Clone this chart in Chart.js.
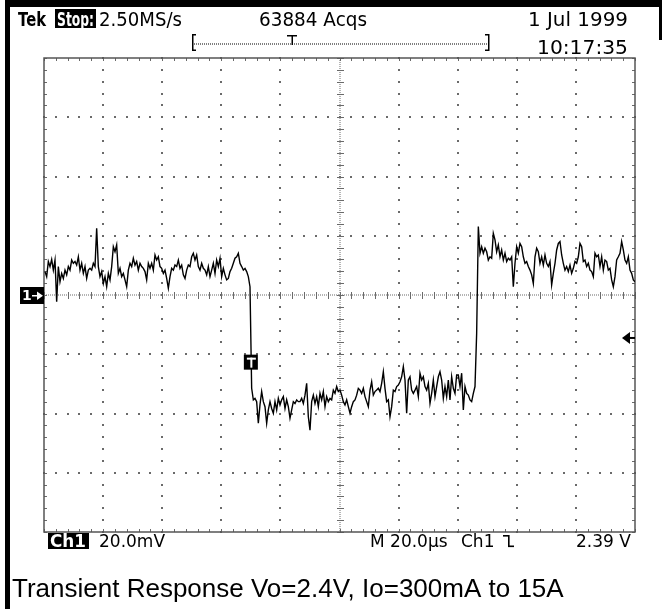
<!DOCTYPE html>
<html>
<head>
<meta charset="utf-8">
<script src="https://cdn.jsdelivr.net/npm/chart.js@4.4.0/dist/chart.umd.min.js"></script>
<style>
html, body { margin: 0; padding: 0; background: #fff; }
#wrap { position: relative; width: 665px; height: 609px; }
</style>
</head>
<body>
<div id="wrap"><canvas id="scope" width="665" height="609"></canvas></div>
<script>
// ch1 trace, mV relative to the "1->" ground marker
var beforeStepMv = [
  7.9, 6.2, 11.3, 9.6, 12.0, 8.4, 11.8, -2.3, 9.6, 4.5,
  7.3, 5.6, 8.4, 6.8, 9.6, 8.4, 11.8, 10.7, 11.3, 10.1,
  12.9, 8.4, 10.7, 7.3, 9.6, 5.6, 8.4, 9.0, 8.4, 10.7,
  9.6, 22.5, 9.6, 6.2, 7.9, 3.9, 6.2, 2.8, 7.3, 5.1,
  9.6, 16.3, 14.6, 16.9, 7.3, 9.0, 6.2, 7.3, 5.1, 2.8,
  8.4, 10.7, 9.6, 12.4, 10.1, 11.3, 8.4, 10.7, 9.6, 9.0,
  7.9, 5.1, 10.7, 9.0, 10.7, 8.4, 13.5, 11.8, 12.9, 9.6,
  9.0, 7.3, 8.4, 5.6, 2.3, 6.2, 9.0, 8.4, 10.1, 9.6,
  11.8, 9.0, 10.1, 6.8, 5.6, 8.4, 10.1, 9.6, 12.9, 14.1,
  11.8, 13.5, 9.6, 8.4, 10.7, 9.0, 8.4, 6.8, 9.6, 6.2,
  8.4, 10.7, 7.3, 11.8, 9.6, 12.4, 6.2, 9.0, 6.8, 5.1,
  5.6, 7.9, 9.0, 10.7, 12.4, 12.9, 14.1, 10.7, 9.6, 8.4,
  9.0, 7.9, 6.2, 2.8
];
var lowMv = [
  -31.5, -35.4, -34.9, -36.0, -43.3, -37.0, -32.6, -36.0, -37.7, -43.3,
  -38.8, -36.0, -38.3, -39.9, -36.0, -38.8, -34.9, -37.1, -35.4, -34.3,
  -38.3, -35.4, -37.7, -41.6, -38.8, -36.0, -36.6, -35.4, -36.0, -36.0,
  -34.9, -36.6, -33.8, -29.8, -41.1, -45.6, -36.0, -33.8, -36.6, -34.3,
  -37.7, -33.2, -35.4, -32.6, -37.7, -34.3, -36.0, -34.9
];
var afterStepMv = [
  -35.4, -32.1, -33.2, -30.9, -32.6, -32.1, -33.8, -36.0, -37.1, -35.4,
  -37.7, -39.9, -37.7, -36.0, -35.4, -33.8, -31.5, -32.1, -33.2, -31.5,
  -34.3, -36.0, -37.7, -32.1, -29.3, -33.8, -32.6, -32.1, -31.5, -32.6,
  -29.8, -25.9, -31.5, -36.0, -35.4, -41.1, -37.7, -32.1, -32.6, -30.9,
  -30.4, -29.3, -27.6, -24.2, -28.7, -39.9, -28.7, -27.6, -32.1, -33.2,
  -32.1, -30.9, -34.3, -26.4, -28.7, -27.6, -30.9, -32.1, -29.8, -36.6,
  -33.2, -28.7, -34.3, -30.9, -27.6, -25.9, -28.7, -34.9, -30.9, -34.3,
  -28.7, -35.4, -27.6, -31.5, -33.2, -27.0, -27.0, -30.9, -26.4, -38.8,
  -30.9, -33.2, -33.8, -35.4, -36.0, -33.2, -30.9, -12.9, 23.1, 14.1,
  16.3, 14.1, 15.8, 14.6, 11.8, 12.9, 12.4, 20.8, 18.6, 14.6,
  16.9, 12.9, 15.2, 11.8, 14.1, 11.3, 12.4, 11.8, 12.9, 2.8,
  10.7, 16.3, 14.1, 17.4, 16.3, 12.9, 10.7, 11.3, 9.6, 8.4,
  6.8, 3.9, 12.9, 15.8, 14.6, 10.7, 12.9, 10.1, 13.5, 10.7,
  9.6, 11.3, 3.4, 7.3, 10.7, 15.2, 17.4, 18.0, 13.5, 10.7,
  8.4, 9.6, 7.9, 10.1, 7.3, 9.0, 11.3, 10.7, 12.9, 17.4,
  16.3, 11.3, 11.8, 9.6, 10.7, 8.4, 7.9, 6.2, 14.1, 12.9,
  13.5, 9.6, 12.9, 8.4, 11.8, 11.3, 8.4, 9.0, 5.1, 2.8,
  6.2, 11.8, 12.9, 14.1, 18.0, 15.2, 11.8, 10.7, 12.9, 8.4,
  7.3, 5.1, 4.5
];

var firstSampleUs = 0.34;
var sampleUs = 0.564;
var timeDivUs = 20;     // M 20.0us
var voltDivMv = 20;     // Ch1 20.0mV
var xDivs = 10;
var yDivs = 8;
var triggerUs = 70;
var triggerMarkMv = -22.5;
var triggerLevelMv = -14.5;

var traceMv = beforeStepMv.concat(lowMv, afterStepMv);
var tracePoints = traceMv.map(function (v, i) {
  return { x: firstSampleUs + i * sampleUs, y: v };
});

// squeeze/stretch a string to the width the scope font used
function fitText(ctx, text, x, y, w) {
  var nat = ctx.measureText(text).width;
  ctx.save();
  ctx.translate(x, y);
  ctx.scale(w / nat, 1);
  ctx.fillText(text, 0, 0);
  ctx.restore();
}

var gridPlugin = {
  id: 'scopeGrid',
  beforeDatasetsDraw: function (chart) {
    var ctx = chart.ctx, ca = chart.chartArea;
    var xs = chart.scales.x, ys = chart.scales.y;
    var xMax = xDivs * timeDivUs;
    var yMin = -yDivs / 2 * voltDivMv;
    ctx.save();
    ctx.fillStyle = '#6a6a6a';
    // dotted major lines
    for (var i = 1; i < xDivs; i++) {
      if (i == xDivs / 2) continue;
      var px = Math.round(xs.getPixelForValue(i * timeDivUs));
      for (var j = 0; j <= yDivs * 5; j++) {
        var py = Math.round(ys.getPixelForValue(yMin + j * voltDivMv / 5));
        ctx.fillRect(px - 1, py - 1, 2, 2);
      }
    }
    for (var i = 1; i < yDivs; i++) {
      if (i == yDivs / 2) continue;
      var py = Math.round(ys.getPixelForValue(yMin + i * voltDivMv));
      for (var j = 0; j <= xDivs * 5; j++) {
        var px = Math.round(xs.getPixelForValue(j * timeDivUs / 5));
        ctx.fillRect(px - 1, py - 1, 2, 2);
      }
    }
    // centre crosshair + border ticks
    var cx = Math.round(xs.getPixelForValue(xMax / 2));
    var cy = Math.round(ys.getPixelForValue(0));
    for (var p = ca.top; p < ca.bottom; p += 2) ctx.fillRect(cx - 0.5, p, 1, 1);
    for (var p = ca.left; p < ca.right; p += 2) ctx.fillRect(p, cy - 0.5, 1, 1);
    for (var j = 0; j <= yDivs * 5; j++) {
      var py = Math.round(ys.getPixelForValue(yMin + j * voltDivMv / 5));
      ctx.fillRect(cx - 3, py, 7, 1);
      ctx.fillRect(ca.left, py, 3, 1);
      ctx.fillRect(ca.right - 3, py, 3, 1);
    }
    for (var j = 0; j <= xDivs * 5; j++) {
      var px = Math.round(xs.getPixelForValue(j * timeDivUs / 5));
      ctx.fillRect(px, cy - 3, 1, 7);
      ctx.fillRect(px, ca.top, 1, 3);
      ctx.fillRect(px, ca.bottom - 3, 1, 3);
    }
    ctx.strokeStyle = '#555';
    ctx.lineWidth = 1.5;
    ctx.strokeRect(ca.left, ca.top, ca.right - ca.left, ca.bottom - ca.top);
    ctx.restore();
  },
  afterDatasetsDraw: function (chart) {
    var ctx = chart.ctx, ca = chart.chartArea;
    var xs = chart.scales.x, ys = chart.scales.y;
    ctx.save();
    // ground marker
    var gy = Math.round(ys.getPixelForValue(0));
    ctx.fillStyle = '#000';
    ctx.fillRect(20, gy - 8, ca.left - 20, 17);
    ctx.fillStyle = '#fff';
    ctx.font = 'bold 14px "DejaVu Sans"';
    ctx.textBaseline = 'middle';
    ctx.fillText('1', 22, gy + 1);
    ctx.fillRect(32, gy, 7, 1.5);
    ctx.beginPath();
    ctx.moveTo(43, gy + 0.75); ctx.lineTo(37, gy - 3.5); ctx.lineTo(37, gy + 5); ctx.fill();
    // trigger mark
    var tx = xs.getPixelForValue(triggerUs), ty = ys.getPixelForValue(triggerMarkMv);
    ctx.fillStyle = '#000';
    ctx.fillRect(tx - 7, ty - 7, 14, 15);
    ctx.fillStyle = '#fff';
    ctx.fillRect(tx - 4, ty - 4, 9, 2);
    ctx.fillRect(tx - 0.5, ty - 4, 2, 10);
    // trigger level arrow
    var ly = ys.getPixelForValue(triggerLevelMv);
    ctx.fillStyle = '#000';
    ctx.beginPath();
    ctx.moveTo(ca.right - 13, ly); ctx.lineTo(ca.right - 5, ly - 6); ctx.lineTo(ca.right - 5, ly + 6); ctx.fill();
    ctx.fillRect(ca.right - 6, ly - 1, 6, 2);
    ctx.restore();
  },
  afterDraw: function (chart) {
    var ctx = chart.ctx, ca = chart.chartArea;
    ctx.save();
    ctx.fillStyle = '#000';
    ctx.fillRect(5, 0, 657, 7);
    ctx.fillRect(5, 0, 5, 609);
    ctx.fillRect(659, 0, 3, 40);
    ctx.textBaseline = 'alphabetic';
    ctx.font = 'bold 19px "DejaVu Sans"';
    fitText(ctx, 'Tek', 18, 26, 28);
    ctx.fillRect(55, 9, 41, 19);
    ctx.fillStyle = '#fff';
    fitText(ctx, 'Stop:', 57, 26, 37);
    ctx.fillStyle = '#000';
    ctx.font = '19px "DejaVu Sans"';
    fitText(ctx, '2.50MS/s', 99, 26, 83);
    fitText(ctx, '63884 Acqs', 259, 26, 108);
    fitText(ctx, '1 Jul 1999', 528, 26, 100);
    fitText(ctx, '10:17:35', 537, 54, 91);
    // record bracket
    ctx.fillRect(192, 34, 1.5, 17);
    ctx.fillRect(192, 34, 4, 1.5);
    ctx.fillRect(192, 49.5, 4, 1.5);
    ctx.fillRect(488, 34, 1.5, 17);
    ctx.fillRect(485, 34, 4, 1.5);
    ctx.fillRect(485, 49.5, 4, 1.5);
    for (var p = 194; p < 488; p += 2) ctx.fillRect(p, 43.5, 1, 1);
    ctx.fillRect(287, 35, 10, 1.5);
    ctx.fillRect(291.5, 35, 1.5, 10);
    // bottom readout
    ctx.fillRect(48, ca.bottom + 1, 41, 16);
    ctx.fillStyle = '#fff';
    ctx.font = 'bold 17px "DejaVu Sans"';
    fitText(ctx, 'Ch1', 50, ca.bottom + 15, 36);
    ctx.fillStyle = '#000';
    ctx.font = '17px "DejaVu Sans"';
    ctx.fillText('20.0mV', 99, ca.bottom + 15);
    ctx.fillText('M 20.0\u00b5s', 370, ca.bottom + 15);
    ctx.fillText('Ch1', 461, ca.bottom + 15);
    ctx.fillRect(503, ca.bottom + 3, 6, 1.6);
    ctx.fillRect(508, ca.bottom + 3, 1.6, 12);
    ctx.fillRect(508, ca.bottom + 13.5, 6, 1.6);
    ctx.fillText('2.39 V', 576, ca.bottom + 15);
    ctx.font = '26px "Liberation Sans"';
    ctx.fillText('Transient Response Vo=2.4V, Io=300mA to 15A', 12, 597);
    ctx.restore();
  }
};

var ctx = document.getElementById('scope').getContext('2d');
var scopeChart = new Chart(ctx, {
  type: 'line',
  data: {
    datasets: [{
      data: tracePoints,
      borderColor: '#000',
      borderWidth: 1.4,
      pointRadius: 0,
      tension: 0,
      fill: false
    }]
  },
  options: {
    responsive: false,
    animation: false,
    layout: { padding: { left: 44, top: 58, right: 30, bottom: 77 } },
    scales: {
      x: { type: 'linear', min: 0, max: xDivs * timeDivUs, display: false },
      y: { min: -yDivs / 2 * voltDivMv, max: yDivs / 2 * voltDivMv, display: false }
    },
    plugins: { legend: { display: false }, tooltip: { enabled: false } }
  },
  plugins: [gridPlugin]
});
</script>
</body>
</html>
